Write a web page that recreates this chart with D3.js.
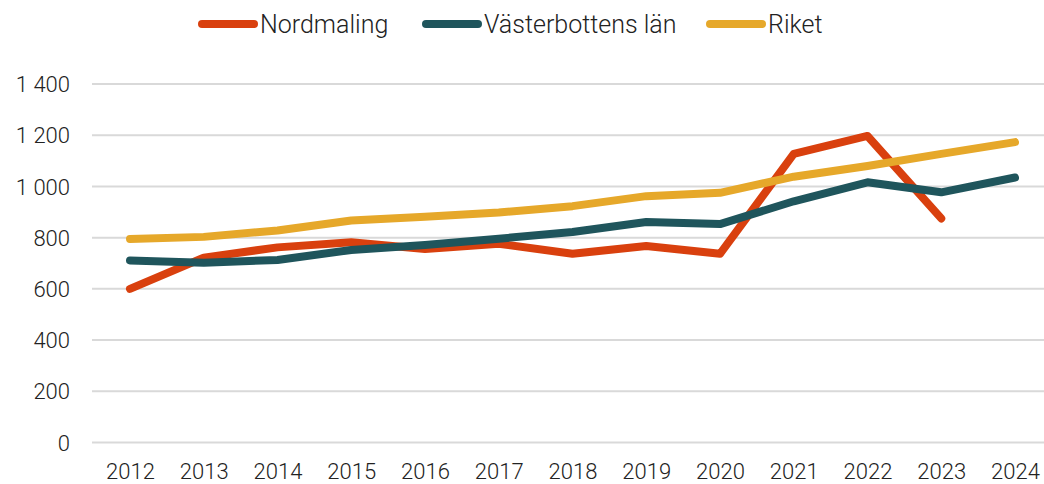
<!DOCTYPE html>
<html>
<head>
<meta charset="utf-8">
<script src="https://cdn.jsdelivr.net/npm/d3@7"></script>
<style>
  body { margin: 0; background: #fff; }
  svg text { font-family: Roboto, "Open Sans", sans-serif; font-weight: 300; fill: #222; }
</style>
</head>
<body>
<div id="chart"></div>
<script>
// data
const years = [2012, 2013, 2014, 2015, 2016, 2017, 2018, 2019, 2020, 2021, 2022, 2023, 2024];
const nordmaling = [600, 722, 762, 782, 756, 776, 737, 767, 737, 1127, 1197, 875, null];
const vasterbotten = [711, 702, 713, 752, 771, 796, 822, 861, 853, 942, 1016, 977, 1035];
const riket = [795, 803, 828, 867, 882, 898, 923, 962, 975, 1038, 1080, 1127, 1173];
const yTicks = [0, 200, 400, 600, 800, 1000, 1200, 1400];

const series = [
  { name: "Nordmaling", color: "#D9400E", values: nordmaling },
  { name: "Västerbottens län", color: "#1F555C", values: vasterbotten },
  { name: "Riket", color: "#E6A82A", values: riket }
];

const width = 1044, height = 484;

const svg = d3.select("#chart")
  .append("svg")
    .attr("width", width)
    .attr("height", height);

const x = d3.scalePoint().domain(years).range([130, 1015]);
const y = d3.scaleLinear().domain([0, 1400]).range([442.5, 84]);

const fmt = d3.formatLocale({ decimal: ",", thousands: "\u00a0", grouping: [3], currency: ["", " kr"] }).format(",d");

// gridlines
svg.append("g")
  .selectAll("line")
  .data(yTicks)
  .enter()
  .append("line")
    .attr("x1", 92)
    .attr("x2", width)
    .attr("y1", d => y(d))
    .attr("y2", d => y(d))
    .attr("stroke", "#d9d9d9")
    .attr("stroke-width", 2);

// y axis labels
const yAxis = svg.append("g")
  .attr("transform", "translate(70,0)")
  .call(d3.axisLeft(y).tickValues(yTicks).tickFormat(fmt).tickSize(0).tickPadding(0));
yAxis.select(".domain").remove();
yAxis.selectAll("text").style("font-size", "22px").attr("dy", "0.35em");

// x axis labels
const xAxis = svg.append("g")
  .attr("transform", "translate(0,463)")
  .call(d3.axisBottom(x).tickSize(0).tickPadding(0));
xAxis.select(".domain").remove();
xAxis.selectAll("text").style("font-size", "22px");

// lines
const line = d3.line()
  .defined(d => d.v != null)
  .x(d => x(d.year))
  .y(d => y(d.v));

svg.append("g")
  .selectAll("path")
  .data(series)
  .enter()
  .append("path")
    .attr("d", s => line(years.map((yr, i) => ({ year: yr, v: s.values[i] }))))
    .attr("fill", "none")
    .attr("stroke", s => s.color)
    .attr("stroke-width", 8)
    .attr("stroke-linecap", "round")
    .attr("stroke-linejoin", "round");

// legend
const legendX = [202, 426, 710];
const legend = svg.append("g")
  .selectAll("g")
  .data(series)
  .enter()
  .append("g")
    .attr("transform", (d, i) => "translate(" + legendX[i] + ",24)");

legend.append("line")
  .attr("x1", 0)
  .attr("x2", 52)
  .attr("stroke", d => d.color)
  .attr("stroke-width", 8)
  .attr("stroke-linecap", "round");

legend.append("text")
  .attr("x", 58)
  .attr("dy", "0.35em")
  .style("font-size", "25px")
  .text(d => d.name);
</script>
</body>
</html>
